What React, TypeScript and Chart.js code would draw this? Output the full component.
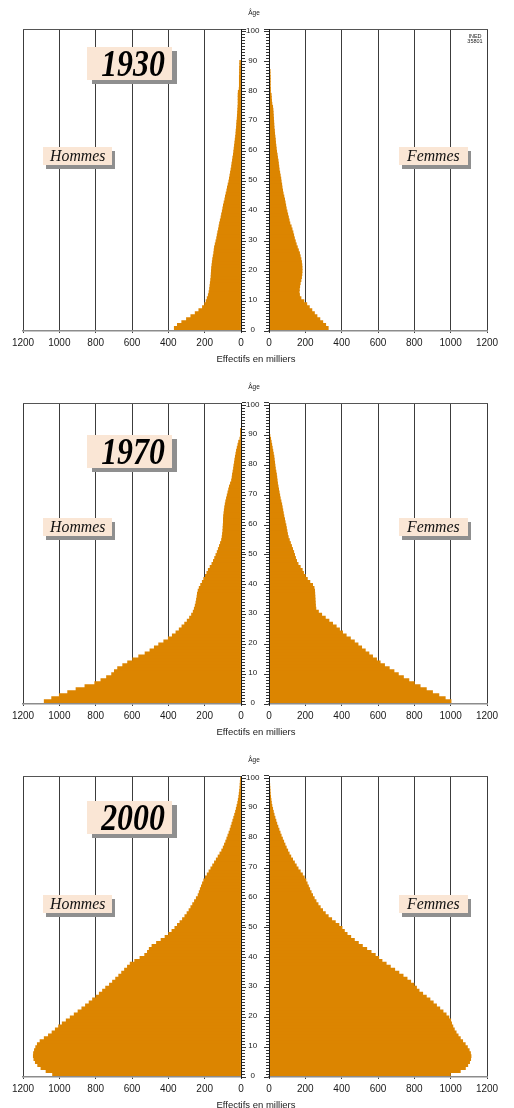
import { useEffect, useRef } from 'react';
import { Chart, registerables } from 'chart.js';

Chart.register(...registerables);

// ---------- data ----------
const AGES = [
  0, 1, 2, 3, 4, 5, 6, 7, 8, 9,
  10, 11, 12, 13, 14, 15, 16, 17, 18, 19,
  20, 21, 22, 23, 24, 25, 26, 27, 28, 29,
  30, 31, 32, 33, 34, 35, 36, 37, 38, 39,
  40, 41, 42, 43, 44, 45, 46, 47, 48, 49,
  50, 51, 52, 53, 54, 55, 56, 57, 58, 59,
  60, 61, 62, 63, 64, 65, 66, 67, 68, 69,
  70, 71, 72, 73, 74, 75, 76, 77, 78, 79,
  80, 81, 82, 83, 84, 85, 86, 87, 88, 89,
  90, 91, 92, 93, 94, 95, 96, 97, 98, 99,
];

const X_TICKS = [0, 200, 400, 600, 800, 1000, 1200];
const AGE_LABELS = [0, 10, 20, 30, 40, 50, 60, 70, 80, 90, 100];

const MEN_1930 = [
  367, 350, 326, 300, 276, 252, 232, 212, 200, 192,
  186, 180, 176, 173, 171, 169, 167, 165, 164, 163,
  162, 160, 158, 156, 153, 150, 148, 146, 142, 138,
  134, 131, 128, 124, 121, 118, 114, 110, 107, 103,
  100, 97, 93, 89, 86, 82, 78, 75, 71, 67,
  64, 61, 58, 55, 52, 50, 47, 45, 42, 40,
  38, 36, 34, 32, 30, 28, 27, 25, 24, 23,
  21, 20, 19, 18, 17, 16, 16, 16, 16, 15,
  10, 9, 9, 9, 9, 8, 8, 8, 7, 7,
  0, 0, 0, 0, 0, 0, 0, 0, 0, 0,
];
const WOMEN_1930 = [
  326, 312, 296, 280, 264, 250, 236, 222, 208, 192,
  176, 168, 166, 167, 169, 172, 176, 179, 181, 182,
  182, 181, 179, 176, 172, 168, 162, 156, 150, 145,
  140, 136, 132, 127, 122, 115, 111, 107, 103, 99,
  95, 92, 89, 86, 82, 78, 75, 72, 70, 67,
  65, 62, 59, 56, 54, 52, 50, 47, 45, 42,
  40, 38, 36, 35, 33, 31, 30, 28, 27, 26,
  25, 24, 23, 22, 20, 16, 14, 13, 12, 8,
  8, 7, 7, 7, 7, 6, 6, 0, 0, 0,
  0, 0, 0, 0, 0, 0, 0, 0, 0, 0,
];
const MEN_1970 = [
  1083, 1042, 1000, 954, 908, 859, 805, 771, 740, 712,
  697, 679, 651, 624, 596, 563, 528, 501, 477, 453,
  425, 400, 378, 358, 340, 325, 310, 296, 283, 272,
  263, 257, 252, 248, 245, 242, 240, 236, 230, 222,
  213, 205, 196, 188, 180, 170, 160, 152, 145, 138,
  131, 125, 119, 113, 107, 104, 102, 100, 99, 98,
  97, 97, 96, 94, 92, 90, 87, 84, 80, 76,
  72, 68, 64, 58, 52, 49, 47, 44, 41, 39,
  36, 34, 31, 28, 25, 21, 17, 13, 6, 3,
  2, 1, 0, 0, 0, 0, 0, 0, 0, 0,
];
const WOMEN_1970 = [
  1002, 970, 935, 900, 866, 832, 800, 770, 740, 712,
  688, 662, 636, 612, 592, 570, 550, 530, 510, 490,
  470, 448, 425, 405, 388, 370, 350, 330, 310, 290,
  272, 258, 256, 255, 254, 253, 252, 251, 248, 240,
  225, 211, 200, 190, 183, 172, 160, 152, 146, 141,
  136, 130, 124, 118, 112, 106, 102, 99, 96, 93,
  89, 86, 82, 79, 76, 73, 70, 66, 62, 59,
  56, 53, 50, 47, 45, 43, 41, 38, 35, 33,
  31, 29, 27, 24, 21, 18, 15, 12, 9, 5,
  3, 2, 1, 1, 0, 0, 0, 0, 0, 0,
];
const MEN_2000 = [
  1037, 1073, 1101, 1119, 1132, 1140, 1143, 1142, 1137, 1130,
  1121, 1106, 1083, 1060, 1040, 1022, 1004, 984, 962, 940,
  918, 897, 876, 856, 836, 817, 798, 780, 762, 745,
  724, 707, 690, 673, 657, 641, 625, 610, 585, 556,
  530, 515, 505, 490, 465, 440, 418, 398, 380, 364,
  350, 336, 322, 309, 297, 286, 276, 266, 256, 246,
  236, 230, 224, 218, 212, 205, 196, 186, 176, 166,
  156, 146, 136, 126, 116, 106, 98, 91, 84, 78,
  72, 66, 60, 55, 50, 45, 40, 35, 30, 26,
  22, 18, 15, 12, 10, 8, 6, 5, 4, 3,
];
const WOMEN_2000 = [
  998, 1053, 1081, 1094, 1104, 1110, 1112, 1109, 1102, 1092,
  1080, 1066, 1053, 1041, 1030, 1020, 1012, 1005, 1000, 990,
  975, 958, 940, 922, 904, 886, 866, 846, 826, 812,
  798, 780, 760, 738, 715, 692, 668, 645, 622, 604,
  585, 562, 538, 514, 492, 470, 450, 430, 415, 402,
  385, 365, 345, 326, 310, 295, 282, 270, 259, 249,
  240, 232, 224, 217, 210, 203, 194, 184, 172, 160,
  150, 140, 130, 120, 111, 103, 95, 88, 81, 74,
  67, 61, 55, 49, 43, 38, 33, 28, 24, 20,
  16, 13, 11, 9, 7, 6, 5, 4, 3, 2,
];

// ---------- layout / style ----------
const BAR = '#dc8500';
const PEACH = '#fae6d5';
const SHADOW = '#8f8f8f';
const GRID = '#3c3c3c';
const SANS = '"Liberation Sans", Arial, sans-serif';
const SERIF = '"Liberation Serif", "Times New Roman", serif';
const SPLIT = 262;
const PAD_TOP = 12;
const X_AXIS_H = 22;

type PanelCfg = {
  year: string;
  men: number[];
  women: number[];
  plotTop: number;
  plotBottom: number;
  yearTop: number;
  labelTop: number;
  ined: boolean;
};

const PANELS: PanelCfg[] = [
  { year: '1930', men: MEN_1930, women: WOMEN_1930, plotTop: 29, plotBottom: 331, yearTop: 47, labelTop: 147, ined: true },
  { year: '1970', men: MEN_1970, women: WOMEN_1970, plotTop: 403, plotBottom: 704, yearTop: 435, labelTop: 518, ined: false },
  { year: '2000', men: MEN_2000, women: WOMEN_2000, plotTop: 776, plotBottom: 1077, yearTop: 801, labelTop: 895, ined: false },
];

type HalfProps = { side: 'left' | 'right'; values: number[]; plotTop: number; plotBottom: number };

function Half({ side, values, plotTop, plotBottom }: HalfProps) {
  const ref = useRef<HTMLCanvasElement | null>(null);
  const isLeft = side === 'left';
  const width = isLeft ? SPLIT : 514 - SPLIT;
  const plotH = plotBottom - plotTop;
  const height = PAD_TOP + plotH + X_AXIS_H;

  useEffect(() => {
    const canvas = ref.current;
    if (!canvas) return;
    const points = AGES.map((a, i) => ({ x: values[i], y: a + 0.5 })).filter((p) => p.x > 0);
    const chart = new Chart(canvas, {
      type: 'bar',
      data: {
        datasets: [
          {
            data: points as any,
            xAxisID: 'x',
            yAxisID: 'y',
            backgroundColor: BAR,
            borderWidth: 0,
            barPercentage: 1,
            categoryPercentage: 1,
            inflateAmount: 0.4,
          } as any,
        ],
      },
      options: {
        indexAxis: 'y',
        responsive: false,
        maintainAspectRatio: false,
        animation: false,
        devicePixelRatio: 1,
        events: [],
        layout: { padding: { top: PAD_TOP, bottom: 0, left: isLeft ? 23 : 0, right: isLeft ? 0 : 27 } },
        plugins: { legend: { display: false }, tooltip: { enabled: false } },
        scales: {
          x: {
            type: 'linear',
            position: 'bottom',
            min: 0,
            max: 1200,
            reverse: isLeft,
            afterBuildTicks: (s: any) => {
              s.ticks = X_TICKS.map((v) => ({ value: v }));
            },
            afterFit: (s: any) => {
              s.height = X_AXIS_H;
            },
            grid: { color: GRID, lineWidth: 1, drawTicks: true, tickLength: 2, tickColor: GRID },
            border: { display: true, color: '#8c8c8c', width: 1.5, z: 1 },
            ticks: {
              autoSkip: false,
              maxRotation: 0,
              padding: 4,
              color: '#1a1a1a',
              font: { family: SANS, size: 10 },
              callback: (v: any) => String(v),
            },
          },
          xTop: {
            type: 'linear',
            axis: 'x',
            position: 'top',
            min: 0,
            max: 1200,
            reverse: isLeft,
            afterFit: (s: any) => {
              s.height = 0;
            },
            grid: { display: false },
            border: { display: true, color: '#555', width: 1, z: 1 },
            ticks: { display: false },
          },
          y: {
            type: 'linear',
            position: isLeft ? 'right' : 'left',
            min: 0,
            max: 100,
            afterFit: (s: any) => {
              s.width = isLeft ? 21 : 7;
            },
            grid: {
              drawOnChartArea: false,
              drawTicks: true,
              tickLength: 5,
              tickColor: '#333',
              tickWidth: 1,
              tickBorderDash: (ctx: any) => {
                const v = ctx && ctx.tick ? ctx.tick.value : 0;
                if (AGE_LABELS.includes(v)) return [];
                return isLeft ? [3, 20] : [0, 2, 3, 20];
              },
            },
            border: { display: true, color: '#1a1a1a', width: 1, z: 1 },
            ticks: {
              display: isLeft,
              stepSize: 1,
              autoSkip: false,
              padding: 0,
              crossAlign: 'center',
              color: '#222',
              font: { family: SANS, size: 8 },
              callback: (v: any) => (AGE_LABELS.includes(Number(v)) ? String(v) : ''),
            },
          },
        },
      } as any,
    });
    return () => chart.destroy();
  }, [values, isLeft, plotH]);

  return (
    <canvas
      ref={ref}
      width={width}
      height={height}
      style={{ position: 'absolute', left: isLeft ? 0 : SPLIT, top: plotTop - PAD_TOP, width, height, display: 'block' }}
    />
  );
}

function Panel({ cfg }: { cfg: PanelCfg }) {
  const labelBox = (text: string, left: number) => (
    <div
      style={{
        position: 'absolute',
        left,
        top: cfg.labelTop,
        width: 69,
        height: 18,
        background: PEACH,
        boxShadow: `3px 4px 0 ${SHADOW}`,
        display: 'flex',
        alignItems: 'center',
        justifyContent: 'center',
        fontFamily: SERIF,
        fontStyle: 'italic',
        fontSize: 17,
        lineHeight: '18px',
        color: '#111',
        zIndex: 2,
      }}
    >
      <span style={{ display: 'inline-block', transform: 'scaleX(0.93)' }}>{text}</span>
    </div>
  );
  return (
    <>
      <Half side="left" values={cfg.men} plotTop={cfg.plotTop} plotBottom={cfg.plotBottom} />
      <Half side="right" values={cfg.women} plotTop={cfg.plotTop} plotBottom={cfg.plotBottom} />
      <div
        style={{
          position: 'absolute',
          left: 229,
          width: 50,
          top: cfg.plotTop - 21,
          height: 10,
          lineHeight: '10px',
          textAlign: 'center',
          fontFamily: SANS,
          fontSize: 6.5,
          color: '#222',
        }}
      >
        Âge
      </div>
      <div
        style={{
          position: 'absolute',
          left: 186,
          width: 140,
          top: cfg.plotBottom + 21,
          height: 13,
          lineHeight: '13px',
          textAlign: 'center',
          fontFamily: SANS,
          fontSize: 9.5,
          color: '#1a1a1a',
        }}
      >
        Effectifs en milliers
      </div>
      <div
        style={{
          position: 'absolute',
          left: 87,
          top: cfg.yearTop,
          width: 85,
          height: 33,
          background: PEACH,
          boxShadow: `5px 4px 0 ${SHADOW}`,
          display: 'flex',
          alignItems: 'center',
          justifyContent: 'center',
          zIndex: 2,
        }}
      >
        <span
          style={{
            display: 'inline-block',
            fontFamily: SERIF,
            fontWeight: 'bold',
            fontStyle: 'italic',
            fontSize: 37,
            lineHeight: '33px',
            color: '#000',
            transform: 'scaleX(0.86)',
            marginLeft: 6,
          }}
        >
          {cfg.year}
        </span>
      </div>
      {labelBox('Hommes', 43)}
      {labelBox('Femmes', 399)}
      {cfg.ined && (
        <div
          style={{
            position: 'absolute',
            left: 460,
            width: 30,
            top: 33.5,
            textAlign: 'center',
            fontFamily: SANS,
            fontSize: 5.5,
            lineHeight: '5px',
            color: '#222',
          }}
        >
          INED
          <br />
          35801
        </div>
      )}
    </>
  );
}

export default function App() {
  return (
    <div
      style={{
        position: 'absolute',
        left: 0,
        top: 0,
        width: 514,
        height: 1108,
        overflow: 'hidden',
        background: '#fff',
      }}
    >
      {PANELS.map((p) => (
        <Panel key={p.year} cfg={p} />
      ))}
    </div>
  );
}
